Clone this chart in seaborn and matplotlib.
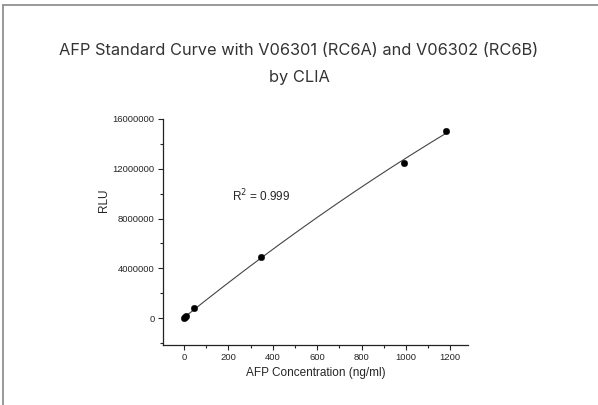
import numpy as np
import pandas as pd
import seaborn as sns
import matplotlib.pyplot as plt
from matplotlib.ticker import MultipleLocator, FuncFormatter
from matplotlib.lines import Line2D

# Datos
concentracion = [0, 5, 10, 45, 345, 990, 1180]
rlu = [0, 60000, 150000, 780000, 4950000, 12500000, 15000000]
r2_texto = "R$^2$ = 0.999"
titulo = "AFP Standard Curve with V06301 (RC6A) and V06302 (RC6B)\nby CLIA"

df = pd.DataFrame({"conc": concentracion, "rlu": rlu})

# curva de ajuste (polinomio de grado 2)
coef = np.polyfit(df["conc"], df["rlu"], 2)
xs = np.linspace(0, 1190, 200)
df_fit = pd.DataFrame({"conc": xs, "rlu": np.polyval(coef, xs)})

sns.set_style("ticks")
plt.rcParams["font.family"] = ["Liberation Sans", "DejaVu Sans"]

fig = plt.figure(figsize=(5.98, 4.05), dpi=100)
ax = fig.add_axes([0.2726, 0.1481, 0.51, 0.5581])

sns.lineplot(data=df_fit, x="conc", y="rlu", ax=ax, color="#444444", linewidth=0.8)
sns.scatterplot(data=df, x="conc", y="rlu", ax=ax, color="black", s=22,
                edgecolor="black", linewidth=0.3, zorder=3)

ax.set_xlim(-95, 1280)
ax.set_ylim(-2160000, 16000000)
ax.xaxis.set_major_locator(MultipleLocator(200))
ax.xaxis.set_minor_locator(MultipleLocator(100))
ax.yaxis.set_major_locator(MultipleLocator(4000000))
ax.yaxis.set_minor_locator(MultipleLocator(2000000))
ax.yaxis.set_major_formatter(FuncFormatter(lambda v, p: f"{int(v)}"))
ax.tick_params(which="major", direction="out", length=3.5, width=0.8, labelsize=6.8, pad=2.5)
ax.tick_params(which="minor", direction="out", length=2, width=0.8)
sns.despine(ax=ax)
for s in ["left", "bottom"]:
    ax.spines[s].set_linewidth(0.9)
    ax.spines[s].set_color("#222222")

ax.set_xlabel("AFP Concentration (ng/ml)", fontsize=8.5, labelpad=3)
ax.set_ylabel("RLU", fontsize=8.5)
ax.yaxis.set_label_coords(-0.175, 0.64)

ax.text(215, 9800000, r2_texto, fontsize=8.5, ha="left", va="center")

fig.text(0.5, 0.8420, titulo, ha="center", va="center", fontsize=11.8,
         family=["Inter", "DejaVu Sans"], color="#333333", linespacing=2.05)

# marco de la figura (solo arriba e izquierda)
fig.add_artist(Line2D([3 / 598, 1], [1 - 5 / 405, 1 - 5 / 405], color="#888888", linewidth=1.2))
fig.add_artist(Line2D([3 / 598, 3 / 598], [0, 1 - 5 / 405], color="#888888", linewidth=1.2))

fig.savefig("out.png", dpi=100)
